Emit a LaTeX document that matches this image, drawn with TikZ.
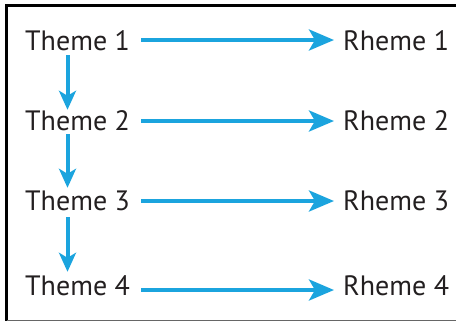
\documentclass[tikz,border=0pt]{standalone}
\usepackage{fontspec}
\setmainfont{PT Sans}
\usetikzlibrary{arrows.meta,calc}
\definecolor{arrblue}{RGB}{27,164,222}
\definecolor{txt}{RGB}{35,31,32}
\tikzset{
  lbl/.style={anchor=base west,inner sep=0pt,text height=20pt,text depth=0pt,font=\fontsize{28}{30}\selectfont,text=txt},
  harr/.style={draw=arrblue,line width=4pt,-{Stealth[length=25pt,width=21pt,inset=6pt]}},
  varr/.style={draw=arrblue,line width=4pt,-{Stealth[length=19pt,width=17pt,inset=5pt]}},
}
\begin{document}
\begin{tikzpicture}[x=1pt,y=-1pt]
\useasboundingbox (0,0) rectangle (456,322);
% frame
\draw[line width=2.5pt,black] (456,5.5) -- (6.5,5.5) -- (6.5,320.5);
\draw[line width=1.5pt,black!60] (6.5,320.5) -- (456,320.5);
% labels
\node[lbl] (t1) at (25,50) {Theme 1};
\node[lbl] (t2) at (25,130) {Theme 2};
\node[lbl] (t3) at (25,210) {Theme 3};
\node[lbl] (t4) at (25,295) {Theme 4};
\node[lbl] (r1) at (343,50) {Rheme 1};
\node[lbl] (r2) at (343,130) {Rheme 2};
\node[lbl] (r3) at (343,210) {Rheme 3};
\node[lbl] (r4) at (343,295) {Rheme 4};
% horizontal arrows
\draw[harr] ($(t1.west)+(116,0)$) -- ($(r1.west)+(-9,0)$);
\draw[harr] ($(t2.west)+(116,1)$) -- ($(r2.west)+(-9,1)$);
\draw[harr] ($(t3.west)+(116,1)$) -- ($(r3.west)+(-9,1)$);
\draw[harr] ($(t4.west)+(116,5)$) -- ($(r4.west)+(-9,5)$);
% vertical arrows
\draw[varr] ($(t1.south west)+(42.5,5)$) -- ($(t2.north west)+(42.5,0)$);
\draw[varr] ($(t2.south west)+(42.5,4)$) -- ($(t3.north west)+(42.5,-2)$);
\draw[varr] ($(t3.south west)+(42.5,7)$) -- ($(t4.north west)+(42.5,-3)$);
\end{tikzpicture}
\end{document}
